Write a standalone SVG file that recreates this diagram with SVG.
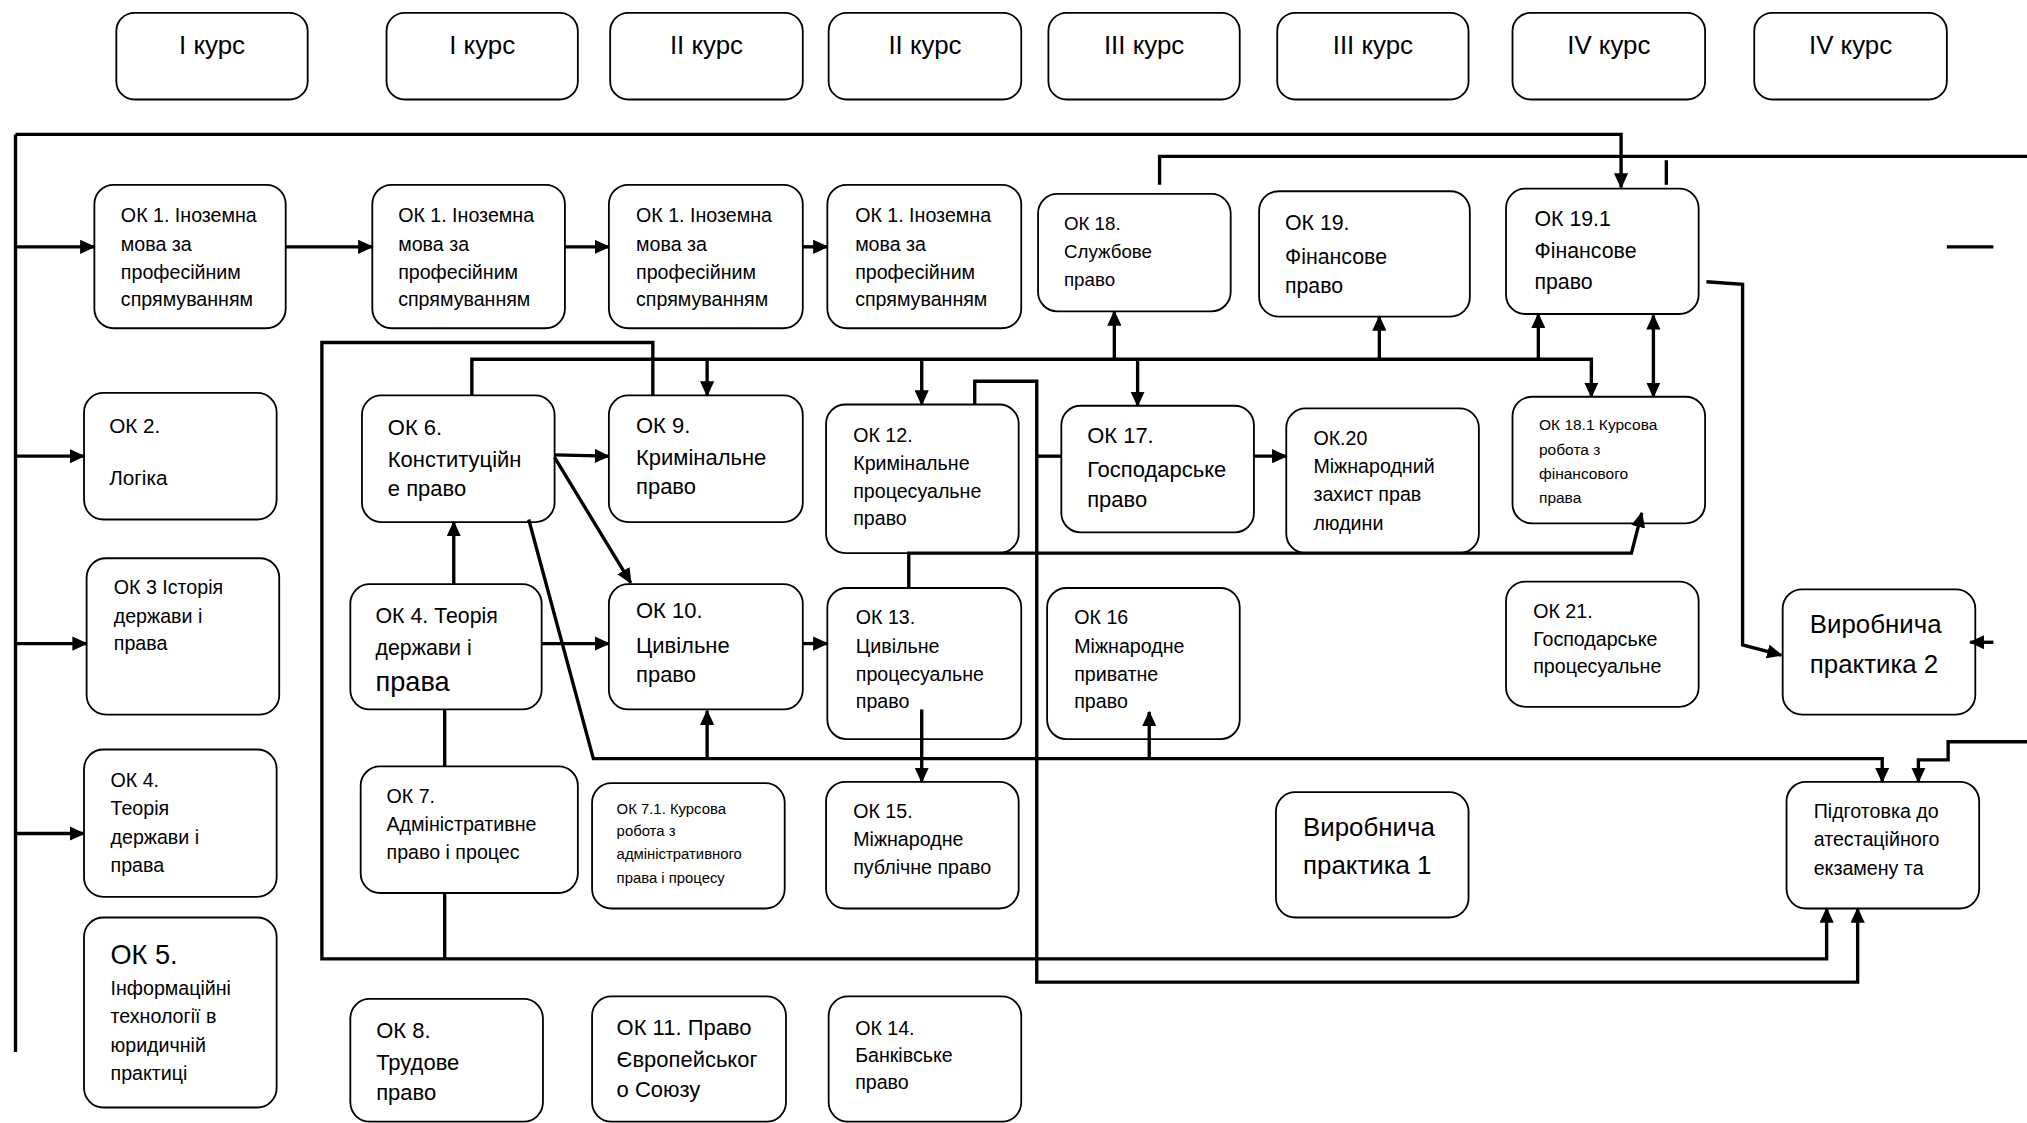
<svg xmlns="http://www.w3.org/2000/svg" width="2027" height="1123" viewBox="0 0 2027 1123">
<style>
.b{fill:#fff;stroke:#000;stroke-width:1.4}
text{font-family:"Liberation Sans",Arial,sans-serif;fill:#000}
.m{text-anchor:middle}
.s11{font-size:11.5px}.s12{font-size:12px}.s14{font-size:14.5px}.s15{font-size:15.2px}.s16{font-size:16px}.s165{font-size:16.5px}.s17{font-size:17px}.s20{font-size:20px}.s21{font-size:21px}
.c{fill:none;stroke:#000;stroke-width:2.6}
.a{marker-end:url(#ah)}
.d{marker-start:url(#ah2);marker-end:url(#ah)}
</style>
<defs>
<marker id="ah" viewBox="0 0 12 11" refX="11" refY="5.5" markerWidth="12" markerHeight="11" markerUnits="userSpaceOnUse" orient="auto"><path d="M0,0 L12,5.5 L0,11 z" fill="#000"/></marker>
<marker id="ah2" viewBox="0 0 12 11" refX="11" refY="5.5" markerWidth="12" markerHeight="11" markerUnits="userSpaceOnUse" orient="auto-start-reverse"><path d="M0,0 L12,5.5 L0,11 z" fill="#000"/></marker>
</defs>
<rect width="2027" height="1123" fill="#fff"/>
<g transform="scale(1.29273,1.29229)">
<g id="course1"><rect class="b" x="90" y="10" width="148" height="67" rx="14"/><text class="s20 m" x="164" y="41.5">I курс</text></g>
<g id="course2"><rect class="b" x="299" y="10" width="148" height="67" rx="14"/><text class="s20 m" x="373" y="41.5">I курс</text></g>
<g id="course3"><rect class="b" x="472" y="10" width="149" height="67" rx="14"/><text class="s20 m" x="546.5" y="41.5">II курс</text></g>
<g id="course4"><rect class="b" x="641" y="10" width="149" height="67" rx="14"/><text class="s20 m" x="715.5" y="41.5">II курс</text></g>
<g id="course5"><rect class="b" x="811" y="10" width="148" height="67" rx="14"/><text class="s20 m" x="885" y="41.5">III курс</text></g>
<g id="course6"><rect class="b" x="988" y="10" width="148" height="67" rx="14"/><text class="s20 m" x="1062" y="41.5">III курс</text></g>
<g id="course7"><rect class="b" x="1170" y="10" width="149" height="67" rx="14"/><text class="s20 m" x="1244.5" y="41.5">IV курс</text></g>
<g id="course8"><rect class="b" x="1357" y="10" width="149" height="67" rx="14"/><text class="s20 m" x="1431.5" y="41.5">IV курс</text></g>

<g id="ok1a"><rect class="b" x="73" y="143" width="148" height="111" rx="15"/><text class="s15"><tspan x="93.5" y="172">ОК 1. Іноземна</tspan><tspan x="93.5" y="194">мова за</tspan><tspan x="93.5" y="216">професійним</tspan><tspan x="93.5" y="237">спрямуванням</tspan></text></g>
<g id="ok1b"><rect class="b" x="288" y="143" width="149" height="111" rx="15"/><text class="s15"><tspan x="308" y="172">ОК 1. Іноземна</tspan><tspan x="308" y="194">мова за</tspan><tspan x="308" y="216">професійним</tspan><tspan x="308" y="237">спрямуванням</tspan></text></g>
<g id="ok1c"><rect class="b" x="471" y="143" width="150" height="111" rx="15"/><text class="s15"><tspan x="492" y="172">ОК 1. Іноземна</tspan><tspan x="492" y="194">мова за</tspan><tspan x="492" y="216">професійним</tspan><tspan x="492" y="237">спрямуванням</tspan></text></g>
<g id="ok1d"><rect class="b" x="640" y="143" width="150" height="111" rx="15"/><text class="s15"><tspan x="661.5" y="172">ОК 1. Іноземна</tspan><tspan x="661.5" y="194">мова за</tspan><tspan x="661.5" y="216">професійним</tspan><tspan x="661.5" y="237">спрямуванням</tspan></text></g>
<g id="ok18"><rect class="b" x="803" y="150" width="149" height="91" rx="15"/><text class="s14"><tspan x="823" y="178">ОК 18.</tspan><tspan x="823" y="200">Службове</tspan><tspan x="823" y="221">право</tspan></text></g>
<g id="ok19"><rect class="b" x="974" y="148" width="163" height="97" rx="15"/><text class="s165"><tspan x="994" y="178">ОК 19.</tspan><tspan x="994" y="204">Фінансове</tspan><tspan x="994" y="227">право</tspan></text></g>
<g id="ok19_1"><rect class="b" x="1165" y="146" width="149" height="97" rx="15"/><text class="s165"><tspan x="1187" y="175">ОК 19.1</tspan><tspan x="1187" y="200">Фінансове</tspan><tspan x="1187" y="224">право</tspan></text></g>

<g id="ok2"><rect class="b" x="65" y="304" width="149" height="98" rx="15"/><text class="s16"><tspan x="84.5" y="335">ОК 2.</tspan><tspan x="84.5" y="375">Логіка</tspan></text></g>
<g id="ok3"><rect class="b" x="67" y="432" width="149" height="121" rx="15"/><text class="s15"><tspan x="88" y="460">ОК 3 Історія</tspan><tspan x="88" y="482">держави і</tspan><tspan x="88" y="503">права</tspan></text></g>
<g id="ok4a"><rect class="b" x="65" y="580" width="149" height="114" rx="15"/><text class="s15"><tspan x="85.5" y="609">ОК 4.</tspan><tspan x="85.5" y="631">Теорія</tspan><tspan x="85.5" y="653">держави і</tspan><tspan x="85.5" y="675">права</tspan></text></g>
<g id="ok5"><rect class="b" x="65" y="710" width="149" height="147" rx="15"/><text class="s21" x="85.5" y="746">ОК 5.</text><text class="s15"><tspan x="85.5" y="770">Інформаційні</tspan><tspan x="85.5" y="792">технології в</tspan><tspan x="85.5" y="814">юридичній</tspan><tspan x="85.5" y="836">практиці</tspan></text></g>

<g id="ok6"><rect class="b" x="280" y="306" width="149" height="98" rx="15"/><text class="s17"><tspan x="300" y="337">ОК 6.</tspan><tspan x="300" y="361">Конституційн</tspan><tspan x="300" y="384">е право</tspan></text></g>
<g id="ok9"><rect class="b" x="471" y="306" width="150" height="98" rx="15"/><text class="s17"><tspan x="492" y="335">ОК 9.</tspan><tspan x="492" y="360">Кримінальне</tspan><tspan x="492" y="382">право</tspan></text></g>
<g id="ok12"><rect class="b" x="639" y="313" width="149" height="115" rx="15"/><text class="s15"><tspan x="660" y="342">ОК 12.</tspan><tspan x="660" y="364">Кримінальне</tspan><tspan x="660" y="385">процесуальне</tspan><tspan x="660" y="406">право</tspan></text></g>
<g id="ok17"><rect class="b" x="821" y="314" width="149" height="98" rx="15"/><text class="s17"><tspan x="841" y="343">ОК 17.</tspan><tspan x="841" y="369">Господарське</tspan><tspan x="841" y="392">право</tspan></text></g>
<g id="ok20"><rect class="b" x="995" y="316" width="149" height="112" rx="15"/><text class="s15"><tspan x="1016" y="344">ОК.20</tspan><tspan x="1016" y="366">Міжнародний</tspan><tspan x="1016" y="388">захист прав</tspan><tspan x="1016" y="410">людини</tspan></text></g>
<g id="ok18_1"><rect class="b" x="1170" y="307" width="149" height="98" rx="15"/><text class="s12"><tspan x="1190.5" y="333">ОК 18.1 Курсова</tspan><tspan x="1190.5" y="352">робота з</tspan><tspan x="1190.5" y="371">фінансового</tspan><tspan x="1190.5" y="389">права</tspan></text></g>

<g id="ok4b"><rect class="b" x="271" y="452" width="148" height="97" rx="15"/><text class="s165"><tspan x="290.5" y="482">ОК 4. Теорія</tspan><tspan x="290.5" y="507">держави і</tspan></text><text class="s21" x="290.5" y="535">права</text></g>
<g id="ok10"><rect class="b" x="471" y="452" width="150" height="97" rx="15"/><text class="s17"><tspan x="492" y="478">ОК 10.</tspan><tspan x="492" y="505">Цивільне</tspan><tspan x="492" y="528">право</tspan></text></g>
<g id="ok13"><rect class="b" x="640" y="455" width="150" height="117" rx="15"/><text class="s15"><tspan x="662" y="483">ОК 13.</tspan><tspan x="662" y="505">Цивільне</tspan><tspan x="662" y="527">процесуальне</tspan><tspan x="662" y="548">право</tspan></text></g>
<g id="ok16"><rect class="b" x="810" y="455" width="149" height="117" rx="15"/><text class="s15"><tspan x="831" y="483">ОК 16</tspan><tspan x="831" y="505">Міжнародне</tspan><tspan x="831" y="527">приватне</tspan><tspan x="831" y="548">право</tspan></text></g>
<g id="ok21"><rect class="b" x="1165" y="450" width="149" height="97" rx="15"/><text class="s15"><tspan x="1186" y="478">ОК 21.</tspan><tspan x="1186" y="500">Господарське</tspan><tspan x="1186" y="521">процесуальне</tspan></text></g>
<g id="vp2"><rect class="b" x="1379" y="456" width="149" height="97" rx="15"/><text class="s20"><tspan x="1400" y="490">Виробнича</tspan><tspan x="1400" y="521">практика 2</tspan></text></g>

<g id="ok7"><rect class="b" x="279" y="593" width="168" height="98" rx="15"/><text class="s15"><tspan x="299" y="621">ОК 7.</tspan><tspan x="299" y="643">Адміністративне</tspan><tspan x="299" y="665">право і процес</tspan></text></g>
<g id="ok7_1"><rect class="b" x="458" y="606" width="149" height="97" rx="15"/><text class="s11"><tspan x="477" y="630">ОК 7.1. Курсова</tspan><tspan x="477" y="647">робота з</tspan><tspan x="477" y="665">адміністративного</tspan><tspan x="477" y="683">права і процесу</tspan></text></g>
<g id="ok15"><rect class="b" x="639" y="605" width="149" height="98" rx="15"/><text class="s15"><tspan x="660" y="633">ОК 15.</tspan><tspan x="660" y="655">Міжнародне</tspan><tspan x="660" y="676">публічне право</tspan></text></g>
<g id="vp1"><rect class="b" x="987" y="613" width="149" height="97" rx="15"/><text class="s20"><tspan x="1008" y="647">Виробнича</tspan><tspan x="1008" y="676">практика 1</tspan></text></g>
<g id="prep"><rect class="b" x="1382" y="605" width="149" height="98" rx="15"/><text class="s15"><tspan x="1403" y="633">Підготовка до</tspan><tspan x="1403" y="655">атестаційного</tspan><tspan x="1403" y="677">екзамену та</tspan></text></g>

<g id="ok8"><rect class="b" x="271" y="773" width="149" height="95" rx="15"/><text class="s17"><tspan x="291" y="803">ОК 8.</tspan><tspan x="291" y="828">Трудове</tspan><tspan x="291" y="851">право</tspan></text></g>
<g id="ok11"><rect class="b" x="458" y="771" width="150" height="97" rx="15"/><text class="s17"><tspan x="477" y="801">ОК 11. Право</tspan><tspan x="477" y="826">Європейськог</tspan><tspan x="477" y="849">о Союзу</tspan></text></g>
<g id="ok14"><rect class="b" x="641" y="771" width="149" height="97" rx="15"/><text class="s15"><tspan x="661.5" y="801">ОК 14.</tspan><tspan x="661.5" y="822">Банківське</tspan><tspan x="661.5" y="843">право</tspan></text></g>

<g id="connectors" class="c">
<path d="M12,104 V814"/>
<path class="a" d="M12,104 H1254 V145"/>
<path d="M897,143 V121 H1568"/>
<path d="M1289,124 V143"/>
<path d="M1506,191 H1542"/>
<path class="a" d="M1320,218 L1348,220 V499 L1378,507"/>
<path class="a" d="M1542,497 H1524"/>
<path class="a" d="M1568,574 H1507 V588 H1484 V605"/>
<path class="a" d="M409,402 L459,587 H1456 V605"/>
<path class="a" d="M547,587 V550"/>
<path class="a" d="M889,587 V551"/>
<path class="a" d="M713,549 V605"/>
<path class="a" d="M505,306 V265 H249 V742 H1413 V703"/>
<path d="M344,549 V593 M344,691 V742"/>
<path class="a" d="M365,306 V278 H1231 V307"/>
<path class="a" d="M547,278 V306"/>
<path class="a" d="M713,278 V313"/>
<path class="a" d="M880,278 V314"/>
<path class="a" d="M862,278 V241"/>
<path class="a" d="M1067,278 V245"/>
<path class="a" d="M1190,278 V243"/>
<path class="d" d="M1279,244 V307"/>
<path class="a" d="M754,313 V295 H802 V760 H1437 V703"/>
<path d="M802,353 H821"/>
<path class="a" d="M703,455 V428 H1262 L1270,397"/>
<path class="a" d="M351,452 V404"/>
<path class="a" d="M429,352 L471,353"/>
<path class="a" d="M429,354 L488,451"/>
<path class="a" d="M419,498 H471"/>
<path class="a" d="M621,498 H640"/>
<path class="a" d="M970,353 H995"/>
<path class="a" d="M221,191 H288"/>
<path class="a" d="M437,191 H471"/>
<path class="a" d="M621,191 H640"/>
<path class="a" d="M12,191 H73"/>
<path class="a" d="M12,353 H65"/>
<path class="a" d="M12,498 H67"/>
<path class="a" d="M12,645 H65"/>
</g>
</g>
</svg>
